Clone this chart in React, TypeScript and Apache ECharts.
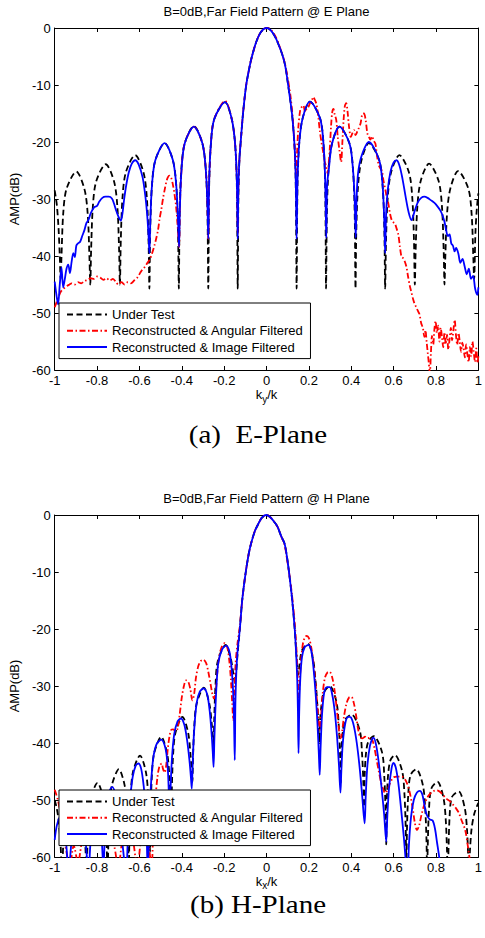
import React, { useEffect, useRef } from 'react';
import * as echarts from 'echarts';

const TITLES = ['B=0dB,Far Field Pattern @ E Plane', 'B=0dB,Far Field Pattern @ H Plane'];
const CAPTIONS = ['(a)  E-Plane', '(b) H-Plane'];
const X_NAMES = ['{n|k}{s|y}{n|/k}', '{n|k}{s|x}{n|/k}'];
const Y_NAME = 'AMP(dB)';
const SERIES_NAMES = ['Under Test', 'Reconstructed & Angular Filtered', 'Reconstructed & Image Filtered'];
const X_TICKS = [-1, -0.8, -0.6, -0.4, -0.2, 0, 0.2, 0.4, 0.6, 0.8, 1];
const Y_TICKS = [-60, -50, -40, -30, -20, -10, 0];

// E-plane
const E_UNDER_TEST = [
  [-1,-28.5],[-0.99,-31],[-0.982,-35],[-0.976,-40],[-0.972,-44],
  [-0.968,-40.2],[-0.96,-32.7],[-0.944,-28.2],[-0.898,-25.2],[-0.86,-28.2],[-0.844,-32.7],[-0.836,-40.2],[-0.832,-45],
  [-0.828,-38.9],[-0.82,-31.4],[-0.804,-26.9],[-0.759,-23.9],[-0.72,-26.9],[-0.704,-31.4],[-0.696,-38.9],[-0.692,-45],
  [-0.688,-37.3],[-0.68,-29.8],[-0.664,-25.3],[-0.62,-22.3],[-0.581,-25.3],[-0.565,-29.8],[-0.557,-37.3],[-0.553,-45.7],
  [-0.549,-35.2],[-0.541,-27.7],[-0.525,-23.2],[-0.481,-20.2],[-0.442,-23.2],[-0.426,-27.7],[-0.418,-35.2],[-0.414,-45.7],
  [-0.41,-32.2],[-0.402,-24.7],[-0.386,-20.2],[-0.343,-17.2],[-0.303,-20.2],[-0.287,-24.7],[-0.279,-32.2],[-0.275,-45.7],
  [-0.271,-28],[-0.263,-20.5],[-0.247,-16],[-0.196,-13],[-0.164,-16],[-0.148,-20.5],[-0.14,-28],[-0.136,-45.7],
  [-0.133,-30],[-0.128,-23],[-0.122,-20],[-0.111,-15],[-0.096,-10],[-0.08,-6.8],[-0.069,-5],[-0.05,-2.6],[-0.03,-0.9],[-0.01,-0.1],
  [0.003,0],[0.02,-0.4],[0.04,-1.5],[0.06,-3.2],[0.079,-5.2],[0.09,-7],[0.1,-9.5],[0.12,-15],[0.131,-20],[0.136,-24],[0.139,-31],[0.142,-45.7],
  [0.146,-27.9],[0.154,-20.4],[0.17,-15.9],[0.205,-12.9],[0.253,-15.9],[0.269,-20.4],[0.277,-27.9],[0.281,-45.7],
  [0.285,-32.3],[0.293,-24.8],[0.309,-20.3],[0.344,-17.3],[0.392,-20.3],[0.408,-24.8],[0.416,-32.3],[0.42,-45.7],
  [0.424,-35.2],[0.432,-27.7],[0.448,-23.2],[0.483,-20.2],[0.532,-23.2],[0.548,-27.7],[0.556,-35.2],[0.56,-45.7],
  [0.564,-37.3],[0.572,-29.8],[0.588,-25.3],[0.627,-22.3],[0.672,-25.3],[0.688,-29.8],[0.696,-37.3],[0.7,-45],
  [0.704,-38.8],[0.712,-31.3],[0.728,-26.8],[0.767,-23.8],[0.812,-26.8],[0.828,-31.3],[0.836,-38.8],[0.84,-45],
  [0.844,-40.1],[0.852,-32.6],[0.868,-28.1],[0.904,-25.1],[0.952,-28.1],[0.968,-32.6],[0.976,-40.1],[0.98,-44],
  [0.986,-36],[0.993,-31.5],[1,-29],
];

const E_ANGULAR = [
  [-1,-49],[-0.99,-48],[-0.98,-47],[-0.97,-46.2],[-0.96,-45.8],[-0.95,-45.5],[-0.94,-45.2],[-0.93,-45],[-0.92,-44.8],[-0.905,-45],
  [-0.89,-44.6],[-0.875,-44.8],[-0.86,-44.4],[-0.845,-44.2],[-0.83,-43.9],[-0.815,-44],[-0.8,-43.6],[-0.785,-43.8],[-0.77,-44.2],
  [-0.755,-43.9],[-0.74,-44.3],[-0.725,-44],[-0.71,-44.6],[-0.7,-45],[-0.685,-44.6],[-0.67,-45],[-0.655,-44.6],[-0.64,-44.8],
  [-0.625,-44.3],[-0.61,-43.8],[-0.597,-43],[-0.585,-42.3],[-0.574,-41.9],[-0.562,-41.2],[-0.551,-40.6],[-0.54,-39.5],[-0.528,-38],
  [-0.52,-36.8],[-0.512,-35.4],[-0.505,-33.5],[-0.497,-31.9],[-0.489,-30],[-0.481,-28.4],[-0.473,-27],[-0.466,-26.2],[-0.458,-25.9],
  [-0.45,-26.3],[-0.443,-27.3],[-0.435,-29],[-0.427,-31.3],[-0.42,-34.5],[-0.413,-38.4],
  [-0.409,-31.5],[-0.401,-24.7],[-0.386,-20.2],[-0.343,-17.3],[-0.303,-20.2],[-0.287,-24.7],[-0.279,-31],[-0.275,-37],
  [-0.271,-27],[-0.263,-20.5],[-0.247,-16],[-0.196,-12.8],[-0.164,-16],[-0.148,-20.5],[-0.14,-27],[-0.136,-36],
  [-0.133,-28],[-0.128,-23],[-0.122,-20],[-0.111,-15],[-0.096,-10],[-0.08,-6.8],[-0.069,-5],[-0.05,-2.6],[-0.03,-0.9],[-0.01,-0.1],
  [0.005,0],[0.025,-0.5],[0.045,-1.7],[0.065,-3.6],[0.085,-6],[0.1,-8.8],[0.115,-12.5],[0.125,-16.5],[0.132,-20.5],[0.137,-24.5],[0.14,-25.5],
  [0.144,-22],[0.15,-17.5],[0.159,-14.4],[0.167,-13.8],[0.174,-13.6],[0.182,-14.8],[0.19,-14.1],[0.198,-13.8],[0.205,-13.2],[0.213,-12.8],
  [0.221,-12.1],[0.228,-12.6],[0.236,-13.4],[0.244,-15.5],[0.251,-17.9],[0.259,-20],[0.267,-21.7],[0.275,-23.5],[0.282,-24.3],[0.288,-25.5],
  [0.294,-23.5],[0.298,-21.5],[0.305,-17],[0.31,-14.8],[0.316,-14.2],[0.322,-15.2],[0.329,-16.1],[0.336,-19],[0.344,-21.4],[0.352,-23.5],
  [0.358,-20],[0.364,-16],[0.37,-13.6],[0.376,-13.2],[0.382,-14.5],[0.39,-17.5],[0.398,-19.1],[0.405,-18.5],[0.413,-17.9],[0.42,-18.8],
  [0.428,-18.2],[0.436,-17.5],[0.444,-16.7],[0.452,-15.1],[0.46,-15],[0.468,-16.2],[0.476,-18.5],[0.483,-19.1],[0.49,-19.6],[0.498,-19],
  [0.506,-19.8],[0.514,-20.3],[0.52,-22],[0.529,-24],[0.537,-24.6],[0.545,-25.1],[0.552,-26.8],[0.56,-28.2],[0.568,-29.8],[0.575,-30.8],
  [0.583,-32.6],[0.591,-33.7],[0.599,-34.1],[0.606,-34.3],[0.614,-35.2],[0.622,-36.2],[0.63,-38.5],[0.637,-40.1],[0.645,-40.4],[0.653,-41],
  [0.661,-42],[0.668,-43.6],[0.676,-45.2],[0.684,-46.4],[0.692,-47.6],[0.699,-48.4],[0.707,-49],[0.714,-49.6],[0.722,-50.2],[0.73,-51.8],
  [0.738,-52.6],[0.745,-54.2],[0.75,-53],[0.756,-55.2],[0.761,-57],[0.766,-58.8],[0.771,-60.5],[0.776,-57],[0.781,-54],[0.787,-55.5],
  [0.792,-53],[0.798,-51.4],[0.804,-53.5],[0.81,-52.2],[0.816,-55],[0.822,-52.6],[0.828,-54.2],[0.834,-56],[0.84,-53.4],[0.846,-55.5],
  [0.852,-53.8],[0.858,-56.4],[0.864,-54.6],[0.87,-52.6],[0.876,-54.8],[0.882,-53],[0.888,-51.2],[0.894,-53.8],[0.9,-55.6],[0.906,-53.5],
  [0.912,-55],[0.918,-56.8],[0.924,-55.2],[0.93,-56.2],[0.936,-57.8],[0.942,-55.5],[0.948,-57.2],[0.954,-58.6],[0.96,-56],[0.966,-57.6],
  [0.972,-55],[0.978,-56.8],[0.984,-58.6],[0.99,-56.2],[0.996,-58.8],[1,-57.5],
];

const E_IMAGE = [
  [-1,-44.5],[-0.993,-46.5],[-0.984,-48.5],[-0.976,-45],[-0.968,-42],[-0.96,-45.5],[-0.952,-44],[-0.944,-42.2],[-0.936,-41.5],[-0.928,-43],
  [-0.92,-41],[-0.912,-39.5],[-0.905,-40.2],[-0.898,-38.2],[-0.89,-37.8],[-0.88,-37.5],[-0.87,-36.5],[-0.86,-35.5],[-0.85,-34.2],[-0.84,-33.6],
  [-0.83,-32.5],[-0.815,-31.5],[-0.8,-31.2],[-0.79,-30.5],[-0.775,-29.8],[-0.76,-29.6],[-0.745,-29.6],[-0.73,-29.9],[-0.72,-30.8],[-0.71,-32],
  [-0.698,-33.2],[-0.688,-33.8],[-0.68,-32.5],[-0.672,-30],[-0.662,-27.5],[-0.65,-25.3],[-0.636,-23.8],[-0.62,-23.2],[-0.603,-24],[-0.585,-26.2],
  [-0.572,-29.5],[-0.563,-33],[-0.556,-37],[-0.553,-39.5],
  [-0.549,-34.5],[-0.541,-27.7],[-0.525,-23.2],[-0.481,-20.2],[-0.442,-23.2],[-0.426,-27.7],[-0.418,-33.5],[-0.413,-38.4],
  [-0.409,-31.5],[-0.401,-24.7],[-0.386,-20.2],[-0.343,-17.3],[-0.303,-20.2],[-0.287,-24.7],[-0.279,-31],[-0.275,-37],
  [-0.271,-27],[-0.263,-20.5],[-0.247,-16],[-0.196,-13],[-0.164,-16],[-0.148,-20.5],[-0.14,-27],[-0.136,-37],
  [-0.133,-28],[-0.128,-23],[-0.122,-20],[-0.111,-15],[-0.096,-10],[-0.08,-6.8],[-0.069,-5],[-0.05,-2.6],[-0.03,-0.9],[-0.01,-0.1],
  [0.003,0],[0.02,-0.4],[0.04,-1.5],[0.06,-3.2],[0.079,-5.2],[0.09,-7],[0.1,-9.5],[0.12,-15],[0.131,-20],[0.136,-24],[0.139,-29],[0.142,-37],
  [0.146,-27],[0.154,-20.4],[0.17,-15.9],[0.205,-12.9],[0.253,-15.9],[0.269,-20.4],[0.277,-27],[0.282,-36.8],
  [0.286,-27.5],[0.294,-24.8],[0.309,-20.3],[0.344,-17.3],[0.392,-20.3],[0.408,-24.8],[0.416,-30],[0.421,-36.8],
  [0.425,-30],[0.432,-25.5],[0.448,-22.5],[0.483,-20],[0.532,-23.2],[0.548,-27.7],[0.556,-34],[0.56,-39.5],
  [0.564,-33],[0.572,-28.5],[0.585,-25.2],[0.6,-23.6],[0.614,-23.2],[0.628,-24.2],[0.642,-26.5],[0.656,-29.5],[0.67,-32.2],[0.684,-33.7],
  [0.7,-32],[0.715,-30.5],[0.73,-29.8],[0.745,-29.6],[0.76,-29.8],[0.775,-30.2],[0.79,-30.6],[0.805,-31.2],[0.82,-32],[0.83,-32.8],
  [0.84,-34],[0.848,-35.5],[0.856,-36.5],[0.864,-36.2],[0.872,-37.8],[0.88,-38.2],[0.888,-39.2],[0.895,-38.6],[0.905,-39.5],[0.915,-41.2],
  [0.925,-40.5],[0.935,-41.8],[0.945,-43.2],[0.955,-42.2],[0.965,-44],[0.975,-43.5],[0.985,-45.8],[0.995,-46.8],[1,-45.5],
];

// H-plane
const H_UNDER_TEST = [
  [-1,-50],[-0.99,-51.5],[-0.98,-54],[-0.972,-58],[-0.965,-63],
  [-0.962,-60],[-0.955,-54],[-0.944,-50.5],[-0.9,-48.5],[-0.872,-51],[-0.86,-55],[-0.853,-60],[-0.85,-63],
  [-0.847,-60],[-0.841,-53.5],[-0.83,-49.8],[-0.798,-47],[-0.77,-49.8],[-0.759,-53.5],[-0.753,-60],[-0.75,-63],
  [-0.747,-58],[-0.741,-51.5],[-0.73,-47.4],[-0.697,-44.6],[-0.67,-47.4],[-0.659,-51.5],[-0.653,-58],[-0.65,-62],
  [-0.647,-56],[-0.641,-49],[-0.63,-45],[-0.597,-42.2],[-0.57,-45],[-0.559,-49],[-0.553,-55],[-0.55,-59],
  [-0.547,-52.5],[-0.541,-45.5],[-0.53,-41.7],[-0.497,-38.9],[-0.47,-41.7],[-0.459,-45.5],[-0.453,-50],[-0.45,-53],
  [-0.447,-48],[-0.441,-42],[-0.43,-38.2],[-0.397,-35.4],[-0.37,-38.2],[-0.359,-42],[-0.353,-45],[-0.35,-46.8],
  [-0.347,-42.5],[-0.341,-37],[-0.33,-33.1],[-0.296,-30.3],[-0.27,-33.1],[-0.259,-36.5],[-0.253,-39],[-0.25,-40.5],
  [-0.247,-36],[-0.241,-30],[-0.23,-25.6],[-0.193,-22.8],[-0.17,-25],[-0.16,-27],[-0.153,-28.8],[-0.148,-29.5],
  [-0.143,-27.5],[-0.137,-24.5],[-0.126,-20],[-0.115,-15],[-0.1,-10.5],[-0.085,-7],[-0.073,-5],[-0.055,-2.8],[-0.042,-1.8],[-0.025,-0.6],[-0.01,-0.1],
  [0,0],[0.015,-0.3],[0.03,-0.9],[0.051,-2],[0.07,-3.8],[0.085,-5],[0.097,-7.5],[0.106,-10],[0.12,-14.5],[0.133,-20],[0.14,-24],[0.146,-27],[0.15,-28],
  [0.155,-26.5],[0.162,-24.5],[0.172,-23.4],[0.196,-22.6],[0.22,-25.4],[0.231,-29],[0.241,-34],[0.25,-40],
  [0.253,-36],[0.259,-33.5],[0.27,-31.2],[0.298,-30],[0.33,-32.8],[0.341,-37],[0.347,-42],[0.35,-47],
  [0.353,-42],[0.359,-38.5],[0.37,-36],[0.401,-35],[0.44,-37.8],[0.451,-42],[0.457,-47],[0.46,-51.2],
  [0.463,-46],[0.469,-42],[0.48,-39.8],[0.506,-38.8],[0.545,-41.6],[0.556,-46],[0.562,-52],[0.565,-57.8],
  [0.568,-50],[0.574,-45.5],[0.585,-43],[0.606,-42.1],[0.64,-44.9],[0.651,-49],[0.657,-55],[0.66,-62],
  [0.663,-55],[0.669,-49],[0.68,-45.6],[0.707,-44.6],[0.738,-47.4],[0.749,-51.5],[0.755,-57],[0.758,-63],
  [0.761,-58],[0.767,-51.5],[0.778,-48],[0.807,-46.8],[0.835,-49.6],[0.846,-53.5],[0.852,-59],[0.855,-63],
  [0.858,-60],[0.864,-53],[0.875,-49.5],[0.907,-48.5],[0.935,-51.3],[0.946,-55],[0.952,-60],[0.955,-63],
  [0.96,-59],[0.968,-55],[0.98,-52.5],[0.992,-51.2],[1,-50.5],
];

const H_ANGULAR = [
  [-1,-48.2],[-0.985,-50],[-0.97,-53],[-0.955,-57],[-0.94,-60],[-0.93,-62],[-0.91,-58],[-0.89,-61],[-0.87,-57],[-0.84,-54],
  [-0.81,-53],[-0.78,-54],[-0.75,-56],[-0.72,-58],[-0.7,-62],[-0.68,-57],[-0.65,-54],[-0.63,-57],[-0.61,-62],[-0.59,-56],
  [-0.57,-54],[-0.555,-58],[-0.543,-62],[-0.535,-56],[-0.525,-50],[-0.515,-46],[-0.505,-44],[-0.495,-43.6],[-0.489,-44.5],[-0.481,-45.2],
  [-0.474,-44],[-0.466,-41],[-0.458,-38.8],[-0.45,-37.7],[-0.44,-37.6],[-0.43,-38],[-0.42,-37.5],[-0.41,-35],[-0.4,-32],[-0.39,-30],
  [-0.38,-29],[-0.37,-29.2],[-0.36,-30.5],[-0.35,-32.5],[-0.342,-31.5],[-0.333,-28.5],[-0.322,-26.5],[-0.31,-25.6],[-0.298,-25.4],
  [-0.285,-26],[-0.275,-27.5],[-0.265,-29.5],[-0.255,-31.5],[-0.248,-32.2],[-0.24,-31],[-0.232,-27.5],[-0.222,-24.5],[-0.21,-23],
  [-0.198,-22.5],[-0.185,-23.3],[-0.176,-25.5],[-0.168,-29],[-0.162,-33],[-0.157,-36],[-0.152,-31],[-0.146,-26],
  [-0.137,-22.5],[-0.126,-19.5],[-0.115,-15],[-0.1,-10.5],[-0.085,-7],[-0.073,-5],[-0.055,-2.8],[-0.042,-1.8],[-0.025,-0.6],[-0.01,-0.1],
  [0,0],[0.015,-0.3],[0.03,-0.9],[0.051,-2],[0.07,-3.8],[0.085,-5.2],[0.097,-7.8],[0.108,-10.5],[0.12,-14],[0.133,-19],[0.142,-24],[0.148,-29],[0.152,-32],
  [0.157,-29],[0.163,-25.5],[0.172,-22.5],[0.182,-21.4],[0.19,-21.2],[0.2,-21.6],[0.21,-23],[0.22,-25.5],[0.23,-29],[0.24,-33.5],
  [0.247,-36.5],[0.252,-37.7],[0.258,-35],[0.266,-31],[0.276,-28.5],[0.288,-27.6],[0.298,-27.5],[0.31,-28.5],[0.32,-30.5],[0.33,-33.5],
  [0.34,-37],[0.348,-39.2],[0.355,-38.5],[0.365,-35.5],[0.378,-33],[0.39,-32],[0.401,-31.9],[0.412,-33],[0.422,-35],[0.432,-37.5],
  [0.44,-38.8],[0.452,-39.2],[0.465,-38.9],[0.478,-39.2],[0.49,-39],[0.5,-39.5],[0.51,-41],[0.52,-43],[0.53,-45],[0.54,-46.8],
  [0.55,-48],[0.56,-48.8],[0.57,-48.3],[0.58,-47.3],[0.59,-46.5],[0.6,-46],[0.615,-45.9],[0.63,-45.9],[0.645,-46],[0.66,-46.8],
  [0.675,-48.5],[0.69,-51.5],[0.7,-54],[0.71,-55.3],[0.72,-54.5],[0.732,-52.5],[0.745,-50.8],[0.76,-49.5],[0.775,-48.8],[0.79,-48.4],
  [0.805,-48.3],[0.82,-48.6],[0.835,-49.2],[0.85,-49.8],[0.865,-50.2],[0.88,-50.8],[0.895,-51.5],[0.907,-52.2],[0.92,-53.5],[0.938,-55.3],
  [0.95,-58],[0.96,-60.5],[0.97,-62],[0.985,-61],[1,-60.5],
];

const H_IMAGE = [
  [-1,-57],[-0.99,-54.5],[-0.975,-53],[-0.96,-54],[-0.945,-58],[-0.935,-63],[-0.92,-57],[-0.905,-53.5],[-0.89,-52.5],[-0.87,-54],
  [-0.855,-57],[-0.84,-63],[-0.832,-58],[-0.82,-54],[-0.805,-52.5],[-0.79,-53.5],[-0.778,-57],[-0.77,-62],[-0.765,-58],[-0.757,-52],
  [-0.745,-48.8],[-0.728,-47.7],[-0.71,-49.5],[-0.695,-53],[-0.682,-57],[-0.668,-62],[-0.662,-64],[-0.656,-58],[-0.645,-50.5],[-0.632,-46],
  [-0.618,-44],[-0.605,-43.6],[-0.592,-44.5],[-0.58,-47.5],[-0.572,-51],[-0.566,-56],[-0.561,-62],[-0.556,-58],[-0.548,-49],[-0.536,-43],
  [-0.52,-40.3],[-0.497,-39.4],[-0.478,-40.8],[-0.468,-43.5],[-0.462,-48],[-0.458,-55],[-0.454,-49],[-0.447,-43],[-0.436,-38.5],[-0.42,-36.2],
  [-0.404,-35.7],[-0.388,-36.8],[-0.375,-39.5],[-0.364,-43],[-0.357,-46],[-0.353,-48],[-0.349,-44],[-0.342,-38],[-0.33,-33],[-0.315,-31],
  [-0.296,-30.4],[-0.28,-31.5],[-0.268,-34.5],[-0.259,-38.5],[-0.254,-41.5],[-0.25,-44.2],[-0.246,-39],[-0.239,-32],[-0.228,-26],[-0.21,-23.6],
  [-0.19,-22.9],[-0.175,-24],[-0.166,-26.5],[-0.159,-30],[-0.154,-35],[-0.15,-43],
  [-0.147,-33],[-0.142,-27],[-0.137,-24],[-0.126,-20],[-0.115,-15],[-0.1,-10.5],[-0.085,-7],[-0.073,-5],[-0.055,-2.8],[-0.042,-1.8],[-0.025,-0.6],[-0.01,-0.1],
  [0,0],[0.015,-0.3],[0.03,-0.9],[0.051,-2],[0.07,-3.8],[0.085,-5],[0.097,-7.5],[0.106,-10],[0.12,-14.5],[0.133,-20],[0.14,-24.5],[0.145,-29],[0.148,-34],[0.151,-41.8],
  [0.154,-35],[0.159,-29],[0.167,-25],[0.18,-23.2],[0.198,-22.8],[0.212,-24],[0.222,-27],[0.232,-31.5],[0.241,-37],[0.247,-42],
  [0.251,-45.6],[0.255,-41],[0.262,-35],[0.272,-31.2],[0.285,-30.2],[0.298,-30.2],[0.31,-31.5],[0.322,-34.5],[0.333,-39],[0.342,-44],
  [0.349,-48.7],[0.353,-45],[0.36,-40],[0.372,-36.5],[0.385,-35.4],[0.398,-35.5],[0.412,-37],[0.426,-40],[0.44,-44.5],[0.452,-49.5],
  [0.463,-54.1],[0.468,-49.5],[0.476,-44],[0.488,-40.5],[0.5,-39.2],[0.506,-39.1],[0.518,-40.5],[0.53,-43.5],[0.542,-47.5],[0.555,-52.5],
  [0.565,-57.3],[0.57,-53],[0.578,-48],[0.59,-44.5],[0.599,-43.5],[0.61,-44.3],[0.622,-47],[0.635,-51.5],[0.648,-56.5],[0.66,-62],
  [0.666,-64],[0.672,-58],[0.682,-53],[0.695,-50],[0.71,-48.7],[0.724,-48.4],[0.735,-49],[0.745,-50.8],[0.755,-52.5],[0.77,-53.4],
  [0.784,-53.6],[0.795,-55],[0.805,-57.5],[0.815,-60],[0.825,-63],[0.86,-64],[0.93,-64],[1,-64],
];

const FONT = '"Liberation Sans", Arial, Helvetica, sans-serif';
const SERIF = '"Liberation Serif", "Times New Roman", serif';
const COLORS = ['#000000', '#ff0000', '#0000ff'];
const DASHES: any[] = [[6, 3.5], [6, 2.5, 1.5, 2.5], 'solid'];

const GRID_TOPS = [28, 515];
const GRID_HEIGHT = 342;
const GRID_LEFT = 53;
const GRID_WIDTH = 431;
const FS = 13;

export default function App() {
  const ref = useRef<HTMLDivElement>(null);

  useEffect(() => {
    if (!ref.current) return;
    const chart = echarts.init(ref.current, undefined, { renderer: 'svg' });
    const fmt = (v: number) => String(Math.round(v * 10) / 10);
    const xMin = X_TICKS[0];
    const xMax = X_TICKS[X_TICKS.length - 1];
    const xStep = Math.round((X_TICKS[1] - X_TICKS[0]) * 10) / 10;
    const yMin = Y_TICKS[0];
    const yMax = Y_TICKS[Y_TICKS.length - 1];
    const yStep = Y_TICKS[1] - Y_TICKS[0];

    const axisLine = { show: true, onZero: false, lineStyle: { color: '#000', width: 1 } };
    const axisTick = { show: true, inside: true, length: 4, lineStyle: { color: '#000', width: 1 } };
    const rich = {
      n: { fontSize: FS, fontFamily: FONT, color: '#000', verticalAlign: 'top' },
      s: { fontSize: 10, fontFamily: FONT, color: '#000', verticalAlign: 'top', padding: [6, 0, 0, 0] },
    };

    const xAxis: any[] = [];
    const yAxis: any[] = [];
    const series: any[] = [];
    const datasets = [
      [E_UNDER_TEST, E_ANGULAR, E_IMAGE],
      [H_UNDER_TEST, H_ANGULAR, H_IMAGE],
    ];
    [0, 1].forEach((g) => {
      xAxis.push({
        type: 'value', gridIndex: g, min: xMin, max: xMax, interval: xStep, position: 'bottom',
        axisLine, axisTick, splitLine: { show: false },
        axisLabel: { show: true, margin: 4, color: '#000', fontSize: FS, fontFamily: FONT, formatter: fmt },
        name: X_NAMES[g], nameLocation: 'middle', nameGap: g === 0 ? 18 : 12,
        nameTextStyle: { color: '#000', fontSize: FS, fontFamily: FONT, rich },
      });
      xAxis.push({
        type: 'value', gridIndex: g, min: xMin, max: xMax, interval: xStep, position: 'top',
        axisLine, axisTick, splitLine: { show: false }, axisLabel: { show: false },
      });
      yAxis.push({
        type: 'value', gridIndex: g, min: yMin, max: yMax, interval: yStep, position: 'left',
        axisLine, axisTick, splitLine: { show: false },
        axisLabel: { show: true, margin: 4, color: '#000', fontSize: FS, fontFamily: FONT, formatter: fmt },
        name: Y_NAME, nameLocation: 'middle', nameGap: 30,
        nameTextStyle: { color: '#000', fontSize: FS, fontFamily: FONT },
      });
      yAxis.push({
        type: 'value', gridIndex: g, min: yMin, max: yMax, interval: yStep, position: 'right',
        axisLine, axisTick, splitLine: { show: false }, axisLabel: { show: false },
      });
      datasets[g].forEach((data, s) => {
        series.push({
          type: 'line', name: SERIES_NAMES[s], xAxisIndex: 2 * g, yAxisIndex: 2 * g,
          data, symbol: 'none', showSymbol: false, smooth: 0.3, clip: true,
          lineStyle: { color: COLORS[s], width: 1.8, type: DASHES[s] },
          itemStyle: { color: COLORS[s] },
          emphasis: { disabled: true },
        });
      });
    });

    const option: any = {
      animation: false,
      grid: GRID_TOPS.map((top) => ({ left: GRID_LEFT, top, width: GRID_WIDTH, height: GRID_HEIGHT, containLabel: false })),
      title: TITLES.map((text, i) => ({
        text, left: GRID_LEFT + GRID_WIDTH / 2 - 2, top: i === 0 ? 5 : 492, textAlign: 'center', padding: 0,
        textStyle: { color: '#000', fontSize: FS, fontWeight: 'normal', fontFamily: FONT },
      })),
      legend: GRID_TOPS.map((top) => ({
        orient: 'vertical', left: 59, top: top + 275, itemWidth: 40, itemHeight: 14, itemGap: 3.3,
        padding: [5, 7, 5, 7], backgroundColor: '#fff', borderColor: '#000', borderWidth: 1, borderRadius: 0,
        z: 10,
        itemStyle: { color: 'transparent', borderColor: 'transparent', borderWidth: 0, opacity: 0 },
        textStyle: { color: '#000', fontSize: FS, fontFamily: FONT }, data: SERIES_NAMES, selectedMode: false,
      })),
      xAxis, yAxis, series,
      graphic: CAPTIONS.map((text, i) => ({
        type: 'text', x: 258, y: i === 0 ? 435 : 905, scaleX: 1.16,
        style: { text, fill: '#000', fontSize: 25, fontFamily: SERIF, align: 'center', verticalAlign: 'middle', textAlign: 'center', textVerticalAlign: 'middle' },
      })),
    };
    chart.setOption(option);
    return () => chart.dispose();
  }, []);

  return <div ref={ref} style={{ position: 'absolute', left: 0, top: 0, width: 485, height: 938, background: '#fff' }} />;
}
